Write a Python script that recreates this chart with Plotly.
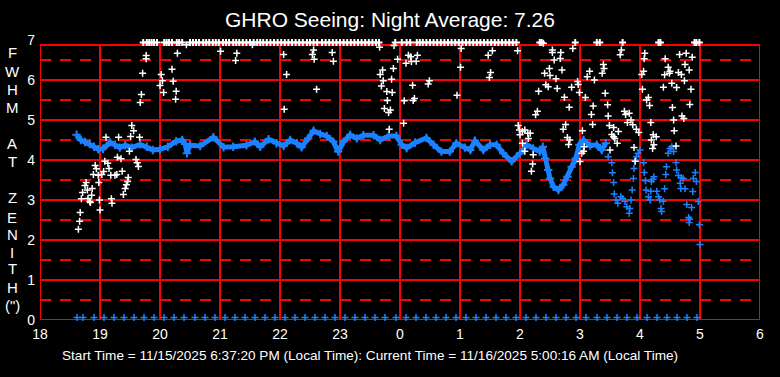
import plotly.graph_objects as go

# ---------------- DATA ----------------
x_tick_vals = [18, 19, 20, 21, 22, 23, 24, 25, 26, 27, 28, 29, 30]
x_tick_text = ["18", "19", "20", "21", "22", "23", "0", "1", "2", "3", "4", "5", "6"]
y_tick_vals = [0, 1, 2, 3, 4, 5, 6, 7]

# blue continuous band (hour of night, FWHM)
blue_band_x = [18.61, 18.68, 18.75, 18.83, 18.90, 18.97, 19.05, 19.17, 19.25, 19.33, 19.42, 19.53,
               19.67, 19.78, 19.88, 20.00, 20.13, 20.27, 20.37, 20.42, 20.45, 20.50, 20.67, 20.89,
               21.06, 21.22, 21.44, 21.58, 21.67, 21.81, 21.94, 22.06, 22.17, 22.28, 22.36, 22.47,
               22.56, 22.67, 22.78, 22.89, 22.97, 23.06, 23.17, 23.28, 23.39, 23.56, 23.67, 23.81,
               23.94, 24.03, 24.11, 24.25, 24.44, 24.56, 24.69, 24.83, 24.94, 25.08, 25.17, 25.25,
               25.39, 25.50, 25.61, 25.72, 25.86, 26.00, 26.11, 26.22, 26.33, 26.38, 26.42, 26.47,
               26.50, 26.56, 26.64, 26.72, 26.79, 26.86, 26.93, 26.99, 27.06, 27.17, 27.28, 27.36,
               27.43]
blue_band_y = [4.63, 4.50, 4.45, 4.40, 4.33, 4.27, 4.28, 4.44, 4.38, 4.31, 4.37, 4.31,
               4.39, 4.33, 4.25, 4.27, 4.33, 4.47, 4.50, 4.40, 4.17, 4.37, 4.35, 4.57,
               4.32, 4.33, 4.37, 4.46, 4.33, 4.52, 4.42, 4.35, 4.50, 4.42, 4.32, 4.54,
               4.73, 4.65, 4.60, 4.46, 4.21, 4.46, 4.63, 4.54, 4.62, 4.62, 4.50, 4.60,
               4.60, 4.38, 4.30, 4.43, 4.55, 4.38, 4.21, 4.21, 4.42, 4.31, 4.25, 4.48,
               4.25, 4.38, 4.38, 4.17, 3.97, 4.17, 4.38, 4.29, 4.21, 4.33, 4.04, 3.75,
               3.54, 3.33, 3.25, 3.38, 3.58, 3.83, 4.04, 4.38, 4.50, 4.36, 4.38, 4.25,
               4.42]

# blue scattered points late in the night
blue_scatter_x = [27.47, 27.53, 27.54, 27.56, 27.57, 27.60, 27.63, 27.68, 27.71, 27.75, 27.78, 27.82,
                  27.83, 27.85, 27.87, 27.89, 27.90, 27.92, 27.94, 27.97, 28.00, 28.06, 28.07, 28.09,
                  28.10, 28.14, 28.17, 28.18, 28.19, 28.22, 28.23, 28.28, 28.31, 28.33, 28.35, 28.36,
                  28.39, 28.41, 28.43, 28.44, 28.47, 28.50, 28.53, 28.56, 28.60, 28.61, 28.64, 28.67,
                  28.68, 28.69, 28.72, 28.75, 28.78, 28.81, 28.82, 28.83, 28.86, 28.88, 28.89, 28.92,
                  28.94, 28.97, 28.99, 29.00]
blue_scatter_y = [4.08, 3.93, 3.68, 3.44, 3.15, 3.00, 2.92, 3.08, 3.04, 2.96, 2.83, 2.67,
                  2.79, 3.00, 3.25, 3.54, 3.79, 3.97, 4.08, 4.17, 4.25, 3.93, 3.69, 3.48,
                  3.25, 3.08, 3.00, 3.22, 3.46, 3.52, 3.58, 3.22, 3.08, 3.00, 2.79, 2.71,
                  2.97, 3.28, 3.64, 3.83, 4.17, 4.29, 4.33, 4.21, 3.94, 3.75, 3.61, 3.42,
                  3.29, 3.56, 3.54, 3.28, 2.89, 2.56, 2.44, 2.52, 2.81, 3.21, 3.54, 3.69,
                  3.46, 2.96, 2.38, 1.89]

# blue zero readings along the bottom (minutes after 18:00)
blue_zero_minutes = [37, 43, 54, 64, 74, 84, 94, 104, 114, 124, 134, 144, 155, 165, 175, 185, 195,
                     205, 215, 225, 235, 245, 255, 265, 275, 285, 295, 305, 315, 325, 335, 345,
                     356, 366, 376, 386, 396, 406, 416, 426, 436, 446, 456, 466, 476, 486, 496,
                     506, 516, 526, 536, 546, 557, 567, 577, 587, 597, 607, 617, 627, 637, 647, 657]
blue_zero_value = 0.06

# white scattered seeing points
white_x = [18.64, 18.66, 18.67, 18.69, 18.71, 18.75, 18.77, 18.79, 18.80, 18.83, 18.84, 18.86, 18.87,
           18.89, 18.92, 18.94, 18.97, 18.98, 18.99, 19.00, 19.03, 19.06, 19.08, 19.10, 19.13, 19.15,
           19.18, 19.19, 19.20, 19.25, 19.28, 19.29, 19.31, 19.35, 19.37, 19.39, 19.42, 19.44, 19.46,
           19.47, 19.49, 19.51, 19.53, 19.56, 19.60, 19.62, 19.64, 19.66,
           19.67, 19.69, 19.71, 19.77, 19.77, 20.00, 20.02, 20.04, 20.06, 20.20, 20.22, 20.26, 20.27,
           20.29, 20.44,
           21.01, 21.26, 21.28, 21.54, 22.06, 22.07, 22.11, 22.54, 22.56, 22.57, 22.61, 22.87, 22.89,
           23.66, 23.67, 23.69, 23.71, 23.72, 23.74, 23.78, 23.79, 23.81, 23.82, 23.84, 23.86, 23.87,
           23.89, 23.90, 23.96, 24.06, 24.07, 24.10, 24.14, 24.18, 24.19, 24.21, 24.22, 24.24, 24.27,
           24.29, 24.47, 24.49,
           24.95, 25.01, 25.02, 25.47, 25.49, 25.51, 25.54,
           25.96, 25.97, 25.99, 26.00, 26.04, 26.04, 26.08, 26.08, 26.13, 26.14, 26.17, 26.19, 26.21,
           26.22, 26.26, 26.29, 26.31, 26.39, 26.41, 26.43, 26.47, 26.49, 26.50, 26.54, 26.54, 26.57,
           26.60, 26.62, 26.67, 26.68, 26.70, 26.72, 26.74, 26.76, 26.79, 26.81, 26.82, 26.83, 26.86,
           26.88, 26.96, 26.97, 26.99, 27.00, 27.03, 27.04, 27.06, 27.07, 27.09, 27.12, 27.16, 27.19,
           27.21, 27.22, 27.24,
           27.37, 27.39, 27.40, 27.42, 27.46, 27.47, 27.49, 27.50, 27.53, 27.56, 27.56, 27.58, 27.62,
           27.64, 27.67, 27.69, 27.74, 27.76, 27.79, 27.82, 27.85, 27.88, 27.90, 27.92, 27.94, 27.98,
           28.03, 28.04, 28.06, 28.07, 28.08, 28.11, 28.14, 28.16, 28.18, 28.19, 28.21, 28.22, 28.23,
           28.27, 28.39, 28.41, 28.42, 28.47, 28.49, 28.50, 28.53, 28.54, 28.56, 28.57, 28.60, 28.61,
           28.64, 28.66, 28.69, 28.70, 28.73, 28.74, 28.75, 28.77, 28.82, 28.83, 28.85, 28.87]
white_y = [2.27, 2.47, 2.69, 3.03, 3.19, 3.36, 3.44, 3.25, 3.04, 2.96, 2.94, 3.12, 3.29,
           3.64, 3.86, 3.78, 3.62, 3.44, 3.00, 2.75, 3.64, 3.71, 3.97, 4.57, 3.92, 3.79,
           3.62, 3.03, 2.92, 3.62, 3.64, 4.07, 4.57, 4.03, 3.72, 3.14, 3.29, 3.38, 3.46,
           3.56, 4.22, 4.59, 4.86, 4.73, 4.01, 3.93, 3.84, 4.57,
           5.44, 5.64, 6.17, 6.53, 6.61, 5.86, 6.14, 5.98, 5.69, 6.27, 5.97, 5.52, 5.72,
           6.67, 6.88,
           6.72, 6.49, 6.67, 6.88, 6.64, 5.27, 6.14, 6.64, 6.75, 6.52, 5.77, 6.69, 6.47,
           6.82, 6.14, 5.85, 6.25, 5.98, 5.29, 5.71, 5.49, 5.19, 4.77, 5.25, 6.02, 5.69,
           6.29, 6.86, 6.52, 4.92, 5.48, 6.42, 6.62, 6.58, 6.46, 5.87, 5.49, 5.54, 6.47,
           6.62, 5.90, 5.98,
           5.62, 6.32, 6.79, 6.62, 6.06, 6.19, 6.73,
           6.73, 4.86, 4.75, 4.63, 4.71, 4.42, 4.75, 4.22, 4.67, 4.54, 4.67, 3.72, 3.90,
           4.13, 5.13, 5.22, 5.72, 6.92, 6.17, 5.88, 5.83, 6.29, 6.11, 6.75, 6.69, 6.50,
           6.03, 5.79, 6.54, 6.69, 6.25, 4.77, 5.57, 4.89, 4.56, 4.39, 5.32, 4.50, 5.82,
           6.79, 5.96, 5.89, 5.69, 3.96, 4.17, 4.73, 4.22, 4.33, 5.56, 6.08, 6.22, 5.14,
           4.89, 5.35, 6.00,
           6.17, 6.39, 6.29, 5.67, 5.38, 5.10, 4.86, 4.25, 4.64, 4.81, 4.58, 4.54, 4.42,
           4.71, 6.63, 6.75, 5.22, 5.14, 4.94, 5.17, 5.00, 4.88, 4.31, 3.97, 4.77, 4.69,
           6.14, 5.77, 6.22, 6.53, 6.67, 5.50, 5.56, 5.36, 4.94, 4.50, 4.29, 4.63, 4.38,
           4.58, 5.82, 6.13, 6.53, 6.32, 6.17, 6.22, 5.92, 5.31, 5.00, 4.73, 4.35, 5.81,
           6.19, 6.64, 6.14, 5.10, 5.04, 5.98, 6.39, 6.67, 6.25, 5.39, 5.77, 6.57]

# white readings clipped at the top of the scale
white_top_x = [19.72, 19.78, 19.82, 19.86, 19.90, 19.95, 20.07, 20.11, 20.15, 20.20, 20.28, 20.32,
               20.37, 20.50, 20.55, 20.60, 20.65, 20.72, 20.77, 20.82, 20.88, 20.93, 20.98, 21.05,
               21.10, 21.15, 21.22, 21.27, 21.32, 21.38, 21.44, 21.50, 21.56, 21.62, 21.67, 21.72,
               21.78, 21.84, 21.90, 21.96, 22.02, 22.08, 22.14, 22.20, 22.26, 22.32, 22.38, 22.45,
               22.50, 22.56, 22.62, 22.70, 22.76, 22.82, 22.88, 22.94, 23.00, 23.06, 23.12, 23.18,
               23.24, 23.30, 23.36, 23.42, 23.48, 23.54, 23.60, 23.65, 23.92, 24.03, 24.11, 24.17,
               24.28, 24.33, 24.38, 24.44, 24.50, 24.56, 24.62, 24.68, 24.74, 24.80, 24.86, 24.92,
               24.98, 25.04, 25.10, 25.16, 25.22, 25.28, 25.34, 25.40, 25.46, 25.52, 25.58, 25.64,
               25.70, 25.76, 25.82, 25.88, 25.94, 26.33, 26.36, 26.92, 27.28, 27.33, 27.71, 28.31,
               28.34, 28.91, 28.94, 28.99]
white_top_value = 6.94

title_text = "GHRO Seeing: Night Average: 7.26"
footer_text = ("Start Time = 11/15/2025 6:37:20 PM (Local Time): "
               "Current Time = 11/16/2025 5:00:16 AM (Local Time)")
ylabel_letters = ["F", "W", "H", "M", "A", "T", "Z", "E", "N", "I", "T", "H", "(\")"]
ylabel_pixel_rows = [53, 71, 89, 107, 143, 161, 197, 217, 234, 252, 268, 287, 305]

# ---------------- STYLE ----------------
RED = "#FF0000"
BLUE = "#1A82FF"
FONT = "Liberation Sans, Arial, sans-serif"
W, H = 780, 377
ML, MR, MT, MB = 40, 20, 40, 57
X0, X1, Y0, Y1 = 18, 30, 0, 7
FRAME_TOP = 6.875

fig = go.Figure()

fig.add_trace(go.Scatter(
    x=blue_band_x, y=blue_band_y, mode="lines+markers",
    line=dict(color=BLUE, width=5),
    marker=dict(symbol="cross-thin", size=6, line=dict(color=BLUE, width=2)),
    hoverinfo="skip", showlegend=False))

fig.add_trace(go.Scatter(
    x=blue_scatter_x, y=blue_scatter_y, mode="markers",
    marker=dict(symbol="cross-thin", size=5, line=dict(color=BLUE, width=1.5)),
    hoverinfo="skip", showlegend=False))

fig.add_trace(go.Scatter(
    x=[18 + m / 60 for m in blue_zero_minutes], y=[blue_zero_value] * len(blue_zero_minutes),
    mode="markers", cliponaxis=False,
    marker=dict(symbol="cross-thin", size=5, line=dict(color=BLUE, width=1.5)),
    hoverinfo="skip", showlegend=False))

fig.add_trace(go.Scatter(
    x=white_x, y=white_y, mode="markers", cliponaxis=False,
    marker=dict(symbol="cross-thin", size=5, line=dict(color="white", width=1.5)),
    hoverinfo="skip", showlegend=False))

fig.add_trace(go.Scatter(
    x=white_top_x, y=[white_top_value] * len(white_top_x), mode="markers", cliponaxis=False,
    marker=dict(symbol="cross-thin", size=5, line=dict(color="white", width=2)),
    hoverinfo="skip", showlegend=False))

shapes = []
# dashed half-unit lines
for k in range(7):
    yv = k + 0.5
    shapes.append(dict(type="line", xref="x", yref="y", x0=X0, x1=X1, y0=yv, y1=yv,
                       line=dict(color=RED, width=2, dash="11px,9px"), layer="below"))
# solid integer lines
for yv in range(1, 7):
    shapes.append(dict(type="line", xref="x", yref="y", x0=X0, x1=X1, y0=yv, y1=yv,
                       line=dict(color=RED, width=2), layer="below"))
for xv in range(19, 30):
    shapes.append(dict(type="line", xref="x", yref="y", x0=xv, x1=xv, y0=Y0, y1=FRAME_TOP,
                       line=dict(color=RED, width=2), layer="below"))
# frame
shapes.append(dict(type="rect", xref="x", yref="y", x0=X0, x1=X1, y0=Y0, y1=FRAME_TOP,
                   line=dict(color=RED, width=2), layer="below"))

annotations = []
pw, ph = W - ML - MR, H - MT - MB
for letter, row in zip(ylabel_letters, ylabel_pixel_rows):
    annotations.append(dict(text=letter, xref="paper", yref="paper",
                            x=(12 - ML) / pw, y=(H - MB - row) / ph,
                            xanchor="center", yanchor="middle", showarrow=False,
                            font=dict(family=FONT, size=15, color="white")))
annotations.append(dict(text=footer_text, xref="paper", yref="paper",
                        x=(370 - ML) / pw, y=(H - MB - 355) / ph,
                        xanchor="center", yanchor="middle", showarrow=False,
                        font=dict(family=FONT, size=13.6, color="white")))

fig.update_layout(
    width=W, height=H,
    margin=dict(l=ML, r=MR, t=MT, b=MB, pad=0),
    paper_bgcolor="black", plot_bgcolor="black",
    hovermode=False,
    title=dict(text=title_text, x=0.5, xanchor="center", xref="container",
               y=1 - 20 / H, yanchor="middle", yref="container",
               font=dict(family=FONT, size=21, color="white")),
    xaxis=dict(range=[X0, X1], tickmode="array", tickvals=x_tick_vals, ticktext=x_tick_text,
               showgrid=False, zeroline=False, showline=False, ticks="",
               ticklabelstandoff=4,
               tickfont=dict(family=FONT, size=14, color="white")),
    yaxis=dict(range=[Y0, Y1], tickmode="array", tickvals=y_tick_vals,
               showgrid=False, zeroline=False, showline=False, ticks="",
               ticklabelstandoff=4,
               tickfont=dict(family=FONT, size=14, color="white")),
    shapes=shapes, annotations=annotations,
)

fig.write_html("out.html",
               config={"displayModeBar": False, "staticPlot": True},
               post_script="document.body.style.margin='0';document.body.style.background='black';")
